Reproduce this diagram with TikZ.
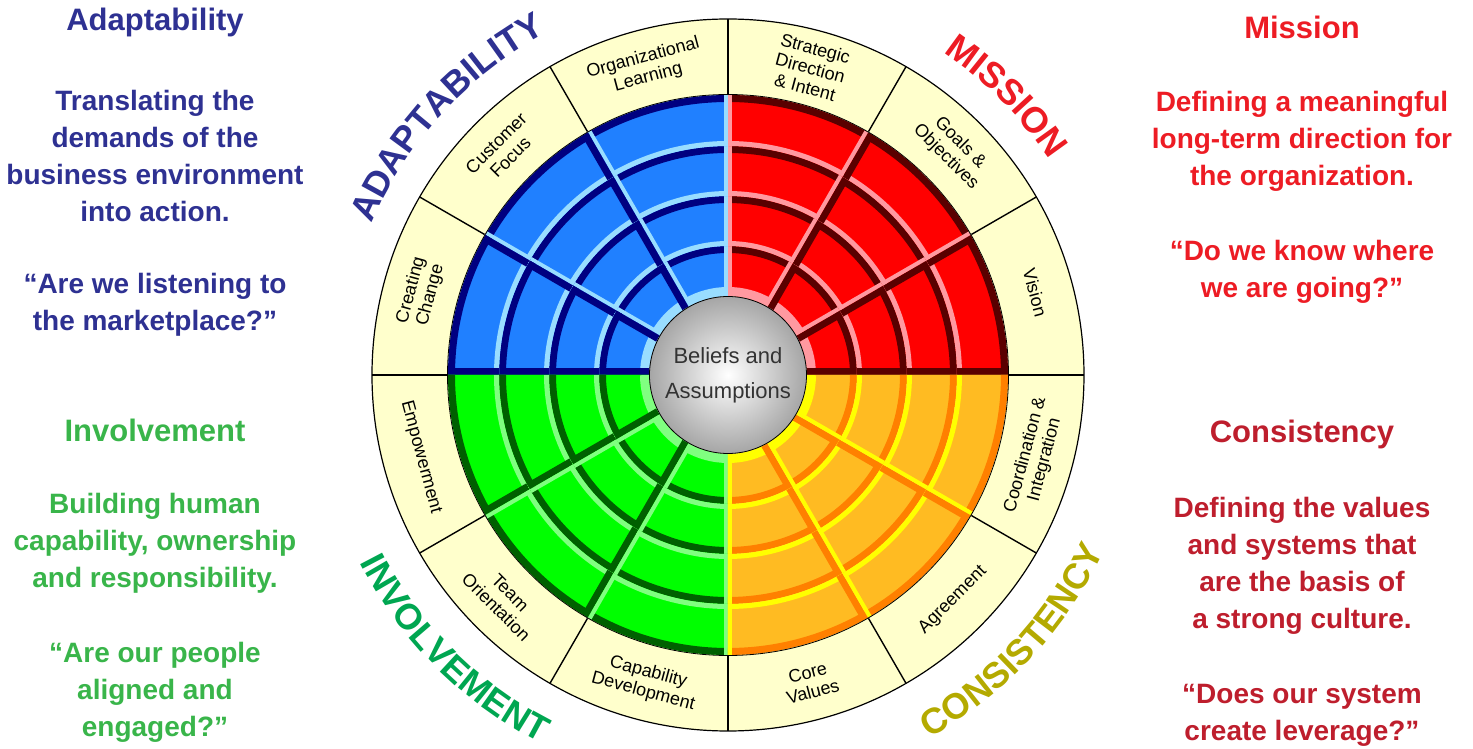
\documentclass[tikz,border=0pt]{standalone}
\usepackage{fontspec}
\setmainfont{Liberation Sans}
\usetikzlibrary{decorations.text}

\definecolor{rimfill}{RGB}{255,255,204}
\definecolor{redfill}{RGB}{255,0,0}
\definecolor{reddark}{RGB}{90,0,0}
\definecolor{redlight}{RGB}{255,153,160}
\definecolor{bluefill}{RGB}{32,128,255}
\definecolor{bluedark}{RGB}{0,0,128}
\definecolor{bluelight}{RGB}{153,221,255}
\definecolor{greenfill}{RGB}{0,255,0}
\definecolor{greendark}{RGB}{0,96,0}
\definecolor{greenlight}{RGB}{128,255,128}
\definecolor{orangefill}{RGB}{255,187,34}
\definecolor{orangedark}{RGB}{255,128,0}
\definecolor{orangelight}{RGB}{255,255,0}
\definecolor{adaptcol}{RGB}{46,49,146}
\definecolor{missioncol}{RGB}{237,28,36}
\definecolor{involvecol}{RGB}{0,166,81}
\definecolor{involvetext}{RGB}{57,181,74}
\definecolor{consistcol}{RGB}{180,170,0}
\definecolor{consisttext}{RGB}{190,30,45}
\definecolor{centretext}{RGB}{51,51,51}

\pgfdeclareradialshading{beliefball}{\pgfpoint{0bp}{0bp}}{color(0bp)=(white); color(50bp)=(black!70)}

\newcommand{\curvefont}{\fontsize{36}{40}\selectfont\bfseries}
\def\innerw{10pt}
\def\cwwidth{8pt}
\def\ccwwidth{14pt}
% one bevelled cell of the wheel: start, end, r in, r out, fill, outer, inner, cw side, ccw side
\newcommand{\wheelcell}[9]{%
  \begin{scope}
    \clip (#1:#3pt) arc[start angle=#1, end angle=#2, radius=#3pt]
      -- (#2:#4pt) arc[start angle=#2, end angle=#1, radius=#4pt] -- cycle;
    \fill[fill=#5] (0,0) circle[radius=#4pt];
    \draw[color=#6, line width=14pt] (#1:#4pt) arc[start angle=#1, end angle=#2, radius=#4pt];
    \draw[color=#7, line width=\innerw] (#1:#3pt) arc[start angle=#1, end angle=#2, radius=#3pt];
    \draw[color=#8, line width=\cwwidth] (#1:#3pt) -- (#1:#4pt);
    \draw[color=#9, line width=\ccwwidth] (#2:#3pt) -- (#2:#4pt);
  \end{scope}}

\begin{document}
\begin{tikzpicture}[x=1pt,y=1pt,
    rimlabel/.style={font=\fontsize{18}{20}\selectfont, align=center, inner sep=0pt},
    sidehead/.style={font=\fontsize{31}{37}\selectfont\bfseries, inner sep=0pt},
    sidetext/.style={font=\fontsize{28}{37}\selectfont\bfseries, align=center, inner sep=0pt},
    rimline/.style={black, line width=1.4pt}]
  \useasboundingbox (-728,-374) rectangle (745,375);

  % label ring
  \fill[rimfill] (0,0) circle[radius=356pt];

  % the four coloured quadrants
  \foreach \q/\fc/\dc/\lc/\cwc/\cww/\ccwc/\ccww/\ecw/\ecww/\eccw/\eccww in {%
      0/redfill/reddark/redlight/redlight/8pt/reddark/14pt/reddark/14pt/redlight/8pt,
      90/bluefill/bluedark/bluelight/bluedark/14pt/bluelight/8pt/bluelight/8pt/bluedark/14pt,
      180/greenfill/greendark/greenlight/greenlight/8pt/greendark/14pt/greenfill/1pt/greenlight/8pt,
      270/orangefill/orangedark/orangelight/orangelight/8pt/orangedark/14pt/orangelight/8pt/orangefill/1pt}{
    \foreach \j in {0,1,2}{
      \foreach \rin/\rout in {79/129,129/179,179/229,229/280}{
        \pgfmathtruncatemacro{\s}{\q+30*\j}
        \pgfmathtruncatemacro{\e}{\s+30}
        \ifnum\j=0 \let\cwnow\ecw \let\cwwidth\ecww \else \let\cwnow\cwc \let\cwwidth\cww \fi
        \ifnum\j=2 \let\ccwnow\eccw \let\ccwwidth\eccww \else \let\ccwnow\ccwc \let\ccwwidth\ccww \fi
        \ifnum\rin<100 \def\innerw{18pt}\else\def\innerw{10pt}\fi
        \wheelcell{\s}{\e}{\rin}{\rout}{\fc}{\dc}{\lc}{\cwnow}{\ccwnow}
      }
    }
  }

  \draw[black, line width=0.8pt] (0,0) circle[radius=280.5pt];
  \draw[black, line width=1.2pt] (0,0) circle[radius=356pt];
  \foreach \a in {0,30,...,330}
    \draw[rimline] (\a:281pt) -- (\a:356pt);

  % labels in the ring
  \foreach \ang/\rot/\txt [count=\n] in {%
      15/-75/Vision,
      45/-45/{Goals \&\\Objectives},
      75/-15/{Strategic\\Direction\\\& Intent},
      105/15/{Organizational\\Learning},
      135/45/{Customer\\Focus},
      165/75/{Creating\\Change},
      195/-75/Empowerment,
      225/-45/{Team\\Orientation},
      255/-15/{Capability\\Development},
      285/15/{Core\\Values},
      315/45/Agreement,
      345/75/{Coordination \&\\Integration}}
    \node[rimlabel, rotate=\rot] (rim\n) at (\ang:318pt) {\txt};

  % centre
  \node[circle, minimum size=157pt, draw=black, line width=0.8pt, shading=beliefball,
    font=\fontsize{22}{35}\selectfont, text=centretext, align=center, inner sep=0pt]
    (beliefs) at (0,0) {Beliefs and\\Assumptions};

  % words round the wheel
  \path[decorate, decoration={text along path, text align=center,
      text={|\curvefont\color{adaptcol}|ADAPTABILITY}}]
    (175:387pt) arc[start angle=175, end angle=100, radius=387pt];
  \path[decorate, decoration={text along path, text align=center,
      text={|\curvefont\color{missioncol}|MISSION}}]
    (85:387pt) arc[start angle=85, end angle=5, radius=387pt];
  \path[decorate, decoration={text along path, text align=center,
      text={|\curvefont\color{involvecol}|INVOLVEMENT}}]
    (185:413pt) arc[start angle=185, end angle=265, radius=413pt];
  \path[decorate, decoration={text along path, text align=center,
      text={|\curvefont\color{consistcol}|CONSISTENCY}}]
    (277:415pt) arc[start angle=277, end angle=357, radius=415pt];

  % side texts
  \node[sidehead, text=adaptcol] (adapthead) at (-573,353) {Adaptability};
  \node[sidetext, text=adaptcol] (adapttext) at (-573,219.5)
    {Translating the\\demands of the\\business environment\\into action.};
  \node[sidetext, text=adaptcol] (adaptquote) at (-573,70.5)
    {“Are we listening to\\the marketplace?”};

  \node[sidehead, text=involvetext] (involvehead) at (-573,-55) {Involvement};
  \node[sidetext, text=involvetext] (involvetxt) at (-573,-168)
    {Building human\\capability, ownership\\and responsibility.};
  \node[sidetext, text=involvetext] (involvequote) at (-573,-317)
    {“Are our people\\aligned and\\engaged?”};

  \node[sidehead, text=missioncol] (missionhead) at (574,348) {Mission};
  \node[sidetext, text=missioncol] (missiontext) at (574,234)
    {Defining a meaningful\\long-term direction for\\the organization.};
  \node[sidetext, text=missioncol] (missionquote) at (574,103.5)
    {“Do we know where\\we are going?”};

  \node[sidehead, text=consisttext] (consisthead) at (574,-59) {Consistency};
  \node[sidetext, text=consisttext] (consisttxt) at (574,-190.5)
    {Defining the values\\and systems that\\are the basis of\\a strong culture.};
  \node[sidetext, text=consisttext] (consistquote) at (574,-340)
    {“Does our system\\create leverage?”};
\end{tikzpicture}
\end{document}
